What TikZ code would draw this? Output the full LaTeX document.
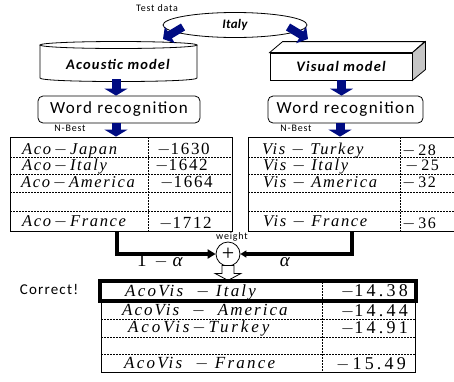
\documentclass[tikz,border=0pt]{standalone}
\usepackage{fontspec}
\setmainfont{Liberation Serif}
\newfontfamily\labfont[LetterSpace=8]{Carlito}
\newfontfamily\tabfont[LetterSpace=10]{Liberation Serif}
\newfontfamily\numfont[LetterSpace=10]{Liberation Serif}
\newcommand{\mn}{\ensuremath{-}}
\newcommand{\lsp}[1]{\addfontfeature{LetterSpace=#1}}
\usetikzlibrary{arrows.meta,calc,shapes.geometric}
\definecolor{navy}{RGB}{0,12,130}
\tikzset{
  lab/.style={inner sep=0, font=\labfont\fontsize{10}{10}\selectfont},
  bold/.style={inner sep=0, font=\labfont\bfseries\itshape\fontsize{14.5}{14.5}\selectfont},
  wr/.style={draw, rounded corners=5, minimum width=162, minimum height=27, inner sep=0, line width=0.8,
    font=\labfont\fontsize{17}{17}\selectfont},
  tab/.style={draw, inner sep=0, line width=0.8},
  dsh/.style={line width=0.7, dash pattern=on 2pt off 1pt},
  ttxt/.style={inner sep=0, anchor=west, text height=10, text depth=2, font=\tabfont\itshape\fontsize{16.5}{16.5}\selectfont},
  tnum/.style={inner sep=0, anchor=west, text height=10, text depth=1, font=\numfont\fontsize{17}{17}\selectfont},
  ctxt/.style={inner sep=0, anchor=west, text height=10, text depth=2, font=\tabfont\itshape\fontsize{17}{17}\selectfont},
  cnum/.style={inner sep=0, anchor=east, text height=11, text depth=1, font=\numfont\fontsize{18}{18}\selectfont\lsp{18}},
  barrow/.style={navy, line width=9pt, -{Triangle[width=23pt,length=7pt]}},
  barrowd/.style={navy, line width=8pt, -{Triangle[width=19pt,length=8pt]}},
  blk/.style={line width=3.5pt},
}
\begin{document}
\begin{tikzpicture}[x=1pt,y=-1pt]
\useasboundingbox (0,0) rectangle (454,381);
% test data
\node[lab] (testdata) at (157,8) {Test data};
\node[draw, ellipse, minimum width=144, minimum height=25, inner sep=0, line width=0.8,
  font=\labfont\bfseries\itshape\fontsize{13}{13}\selectfont\lsp{2}] (italy) at (235,25) {Italy};
% cylinder
\draw[line width=0.8, fill=white] (40,45) -- (40,78) .. controls (40,82.7) and (197,82.7) .. (197,78) -- (197,45);
\draw[line width=0.8, fill=white] (118.5,45) ellipse [x radius=78.5, y radius=3.5];
\node[bold] (aco) at (118,64) {Acoustic model};
% box
\node[draw, fill=white, minimum width=142, minimum height=27, inner sep=0, line width=0.8,
  font=\labfont\bfseries\itshape\fontsize{14.5}{14.5}\selectfont] (vis) at (341,66.5) {Visual model};
\draw[line width=0.8, fill=white] (vis.north west) -- ++(13,-11) -- ++(142,0) -- (vis.north east) -- cycle;
\draw[line width=0.8, fill=gray!45] (vis.north east) -- ++(13,-11) -- ++(0,28) -- (vis.south east) -- cycle;
% arrows from test data
\coordinate (a1s) at (183,27); \coordinate (a1e) at (163,39);
\coordinate (a2s) at (288,27); \coordinate (a2e) at (308,39);
\draw[barrowd] (a1s) -- (a1e);
\draw[barrowd] (a2s) -- (a2e);
% word recognition
\node[wr] (wrA) at (119,109.5) {Word recognition};
\node[wr, minimum width=155] (wrB) at (345.5,109.5) {Word recognition};
\coordinate (cylB) at (116,79);
\coordinate (visB) at (341.5,80);
\draw[barrow] (cylB) -- (cylB |- wrA.north);
\draw[barrow] (visB) -- (visB |- wrB.north);
\node[lab] (nbA) at (70,128) {N-Best};
\node[lab] (nbB) at (296,128) {N-Best};
% tables
\node[tab, minimum width=222, minimum height=94] (tabA) at (121,184) {};
\node[tab, minimum width=222, minimum height=94] (tabB) at (359,184) {};
\coordinate (tA) at (116,123); \coordinate (tB) at (340,123);
\draw[barrow] (tA) -- (tA |- tabA.north);
\draw[barrow] (tB) -- (tB |- tabB.north);
\foreach \y in {157,174,192,211} {
  \draw[dsh] (10,\y) -- (232,\y);
  \draw[dsh] (248,\y) -- (470,\y);
}
\draw[dsh] (148,137) -- (148,231);
\draw[dsh] (400,137) -- (400,231);
\node[ttxt] (aJ) at (22,150) {Aco\,\mn\,Japan};
\node[ttxt] (aI) at (22,166) {Aco\,\mn\,Italy};
\node[ttxt] (aA) at (21,183) {Aco\,\mn\,America};
\node[ttxt] (aF) at (22,222) {Aco\,\mn\,France};
\node[tnum] (nJ) at (157,150) {\mn1630};
\node[tnum] (nI) at (155,166) {\mn1642};
\node[tnum] (nA) at (160,183) {\mn1664};
\node[tnum] (nF) at (159,224) {\mn1712};
\node[ttxt] (vT) at (262,150) {Vis\ \mn\ Turkey};
\node[ttxt] (vI) at (263,166) {Vis\ \mn\ Italy};
\node[ttxt] (vA) at (263,183) {Vis\ \mn\ America};
\node[ttxt] (vF) at (263,222) {Vis\ \mn\ France};
\node[tnum, font=\numfont\fontsize{16}{16}\selectfont] (mT) at (402,151) {\mn\,28};
\node[tnum, font=\numfont\fontsize{16}{16}\selectfont] (mI) at (405,166) {\mn\,25};
\node[tnum, font=\numfont\fontsize{16}{16}\selectfont] (mA) at (402,183) {\mn\,32};
\node[tnum, font=\numfont\fontsize{16}{16}\selectfont] (mF) at (402,224) {\mn\,36};
% combination
\node[draw, circle, minimum size=24, inner sep=0, line width=0.8, font=\fontsize{22}{22}\selectfont] (plus) at (228,254) {+};
\node[lab] (weight) at (232,237) {weight};
\coordinate (la) at (117,231); \coordinate (lb) at (352,231);
\draw[blk, -{Triangle[width=9pt,length=8pt]}] (la) |- (plus.west);
\draw[blk, -{Triangle[width=7pt,length=6pt]}] (lb) |- (plus.east);
\node[inner sep=0, font=\fontsize{19}{19}\selectfont] (oma) at (160,261) {1\ \,$-$\ \textit{α}};
\node[inner sep=0, font=\fontsize{19}{19}\selectfont] (alp) at (285,262) {\textit{α}};
\draw[line width=0.8, fill=white] ($(plus.south)+(-6,-1)$) -- ++(0,8) -- ++(-7,0) -- ($(plus.south)+(0,14)$)
  -- ($(plus.south)+(13,7)$) -- ++(-7,0) -- ++(0,-8) -- cycle;
% result table
\node[lab, font=\labfont\fontsize{15}{15}\selectfont] (corr) at (49,289) {Correct!};
\node[tab, minimum width=314, minimum height=93] (tabC) at (258,325.5) {};
\foreach \y in {319,337,354} \draw[dsh] (101,\y) -- (415,\y);
\draw[dsh] (322,279) -- (322,372);
\draw[line width=3.5pt] (100,281) rectangle (416,301);
\node[ctxt] (cI) at (125,292) {\lsp{13}AcoVis\ \ \mn\ Italy};
\node[ctxt] (cA) at (122,311) {\lsp{12}AcoVis\ \ \mn\ \ America};
\node[ctxt] (cT) at (128,328) {\lsp{17}AcoVis\,\mn\,Turkey};
\node[ctxt] (cF) at (124,364) {\lsp{13}AcoVis\ \ \mn\ France};
\node[cnum] (rI) at (408,291) {\mn14.38};
\node[cnum] (rA) at (408,311) {\mn14.44};
\node[cnum] (rT) at (408,328) {\mn14.91};
\node[cnum] (rF) at (406,364) {\mn\,15\,.49};
\end{tikzpicture}
\end{document}
